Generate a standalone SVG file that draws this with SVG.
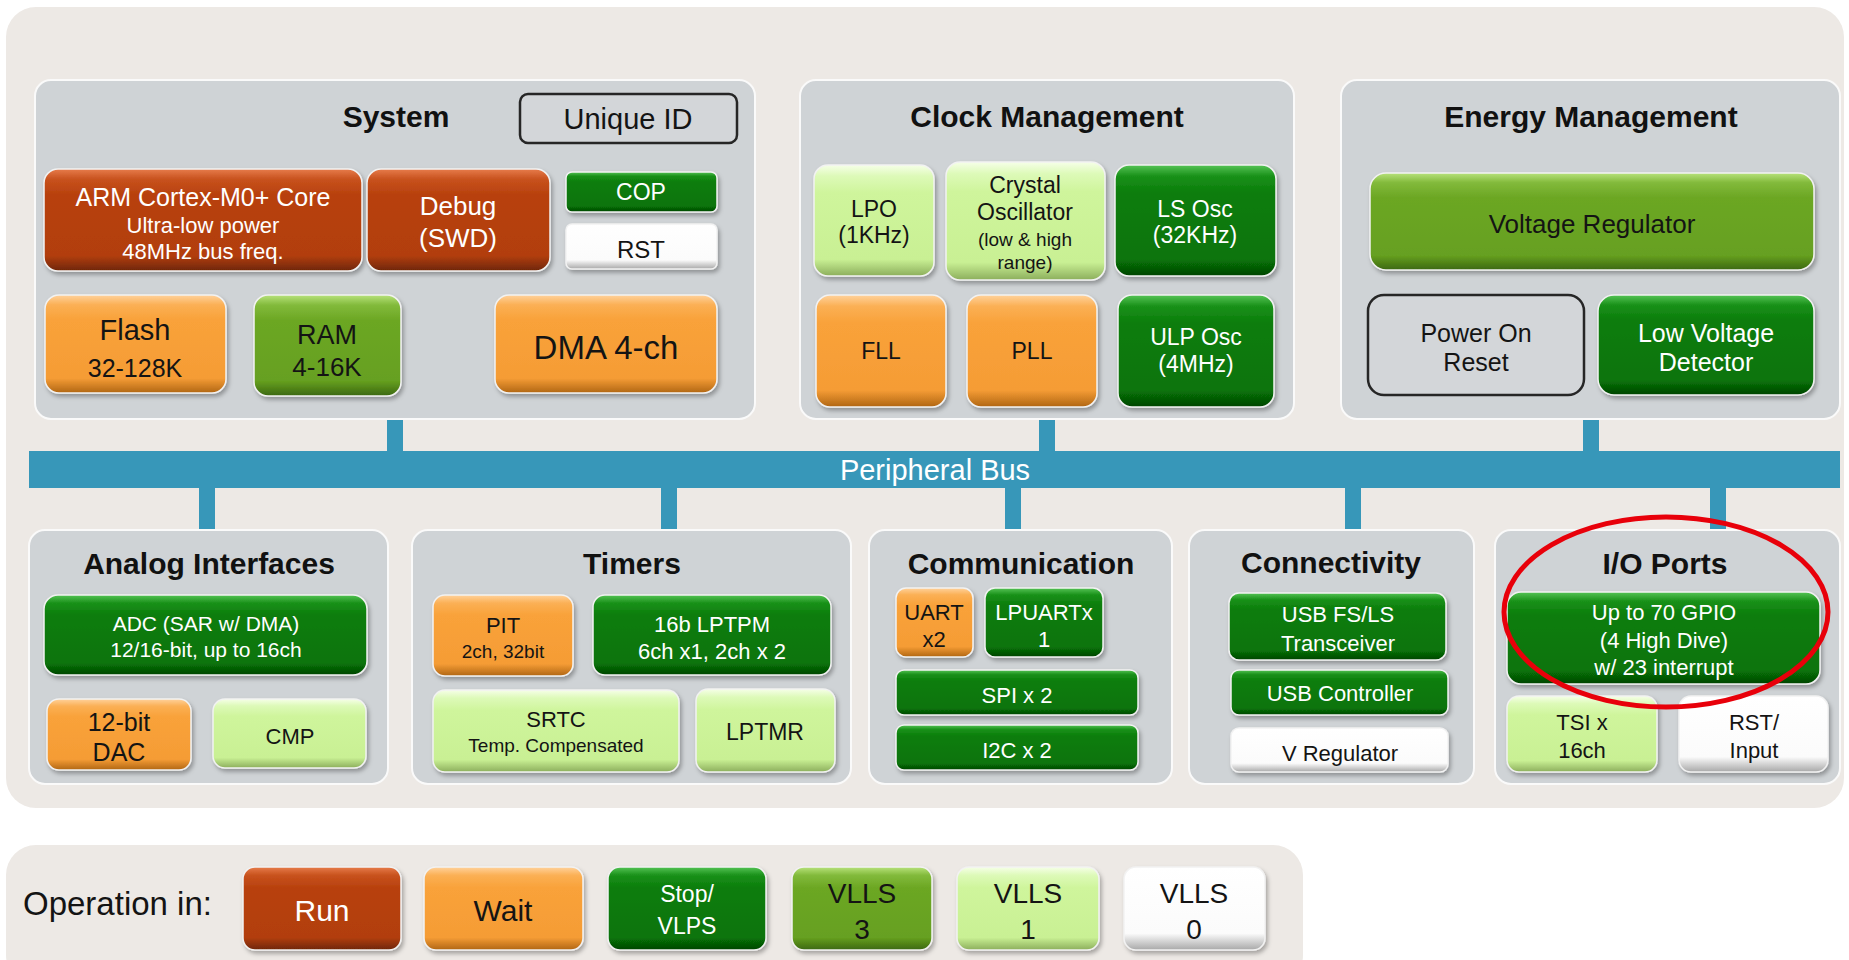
<svg xmlns="http://www.w3.org/2000/svg" width="1849" height="960" viewBox="0 0 1849 960">
<defs>
<linearGradient id="gRust" x1="0" y1="0" x2="0" y2="1"><stop offset="0" stop-color="#e77c4b"/><stop offset="0.1" stop-color="#c8521d"/><stop offset="0.25" stop-color="#b8410e"/><stop offset="0.85" stop-color="#b23e0d"/><stop offset="1" stop-color="#6e2606"/></linearGradient>
<linearGradient id="gOrange" x1="0" y1="0" x2="0" y2="1"><stop offset="0" stop-color="#ffd29c"/><stop offset="0.1" stop-color="#fbb055"/><stop offset="0.25" stop-color="#f9a23a"/><stop offset="0.85" stop-color="#f59c35"/><stop offset="1" stop-color="#b06614"/></linearGradient>
<linearGradient id="gGreen" x1="0" y1="0" x2="0" y2="1"><stop offset="0" stop-color="#55c455"/><stop offset="0.1" stop-color="#1a911a"/><stop offset="0.25" stop-color="#0b7d0b"/><stop offset="0.85" stop-color="#087408"/><stop offset="1" stop-color="#034503"/></linearGradient>
<linearGradient id="gOlive" x1="0" y1="0" x2="0" y2="1"><stop offset="0" stop-color="#b8e27c"/><stop offset="0.1" stop-color="#82ba3b"/><stop offset="0.25" stop-color="#6ca724"/><stop offset="0.85" stop-color="#66a020"/><stop offset="1" stop-color="#3c6810"/></linearGradient>
<linearGradient id="gLight" x1="0" y1="0" x2="0" y2="1"><stop offset="0" stop-color="#f6ffe8"/><stop offset="0.1" stop-color="#ddfab8"/><stop offset="0.25" stop-color="#cff59c"/><stop offset="0.85" stop-color="#c9f094"/><stop offset="1" stop-color="#8cae5c"/></linearGradient>
<linearGradient id="gWhite" x1="0" y1="0" x2="0" y2="1"><stop offset="0" stop-color="#ffffff"/><stop offset="0.8" stop-color="#fbfbfb"/><stop offset="1" stop-color="#a8a8a8"/></linearGradient>
<filter id="sh" x="-10%" y="-10%" width="125%" height="130%"><feDropShadow dx="2" dy="3" stdDeviation="2" flood-color="#000" flood-opacity="0.3"/></filter>
</defs>
<style>
.panel{fill:#cfd3d6;stroke:#fafafa;stroke-width:2}
.title{font-family:"Liberation Sans",Arial,sans-serif;font-weight:bold;font-size:30px;fill:#111;text-anchor:middle}
.t{font-family:"Liberation Sans",Arial,sans-serif;text-anchor:middle}
.w{fill:#ffffff}
.d{fill:#141414}
.btn{stroke:#f2f2f2;stroke-width:1.5;filter:url(#sh)}
.rust{fill:url(#gRust)}
.orange{fill:url(#gOrange)}
.green{fill:url(#gGreen)}
.olive{fill:url(#gOlive)}
.light{fill:url(#gLight)}
.white{fill:url(#gWhite)}
.outline{fill:#d3d6d9;stroke:#262626;stroke-width:2.5}
.bus{fill:#3797b9}
</style>
<rect x="0" y="0" width="1849" height="960" fill="#ffffff"/>
<rect x="6" y="7" width="1838" height="801" rx="30" fill="#ede9e5"/>
<rect x="6" y="845" width="1297" height="140" rx="30" fill="#ede9e5"/>

<g id="connectors">
<rect class="bus" x="29" y="451" width="1811" height="37"/>
<rect class="bus" x="387" y="417" width="16" height="36"/>
<rect class="bus" x="1039" y="417" width="16" height="36"/>
<rect class="bus" x="1583" y="417" width="16" height="36"/>
<rect class="bus" x="199" y="486" width="16" height="46"/>
<rect class="bus" x="661" y="486" width="16" height="46"/>
<rect class="bus" x="1005" y="486" width="16" height="46"/>
<rect class="bus" x="1345" y="486" width="16" height="46"/>
<rect class="bus" x="1710" y="486" width="16" height="46"/>
<text class="t w" x="935" y="480" font-size="29">Peripheral Bus</text>
</g>

<g id="system">
<rect class="panel" x="35" y="80" width="720" height="339" rx="16"/>
<text class="title" x="396" y="127">System</text>
<g id="unique-id"><rect class="outline" x="520" y="94" width="217" height="49" rx="8"/><text class="t d" x="628" y="129" font-size="29">Unique ID</text></g>
<g id="arm-core"><rect class="btn rust" x="44" y="169" width="318" height="102" rx="14"/><text class="t w" x="203" y="206" font-size="25">ARM Cortex-M0+ Core</text><text class="t w" x="203" y="233" font-size="22">Ultra-low power</text><text class="t w" x="203" y="259" font-size="22">48MHz bus freq.</text></g>
<g id="debug"><rect class="btn rust" x="367" y="169" width="183" height="102" rx="14"/><text class="t w" x="458" y="215" font-size="26">Debug</text><text class="t w" x="458" y="247" font-size="26">(SWD)</text></g>
<g id="cop"><rect class="btn green" x="566" y="172" width="151" height="40" rx="6"/><text class="t w" x="641" y="200" font-size="23">COP</text></g>
<g id="rst"><rect class="btn white" x="566" y="224" width="151" height="45" rx="6"/><text class="t d" x="641" y="258" font-size="24">RST</text></g>
<g id="flash"><rect class="btn orange" x="45" y="295" width="181" height="98" rx="14"/><text class="t d" x="135" y="340" font-size="29">Flash</text><text class="t d" x="135" y="377" font-size="25">32-128K</text></g>
<g id="ram"><rect class="btn olive" x="254" y="295" width="147" height="101" rx="14"/><text class="t d" x="327" y="344" font-size="27">RAM</text><text class="t d" x="327" y="376" font-size="26">4-16K</text></g>
<g id="dma"><rect class="btn orange" x="495" y="295" width="222" height="98" rx="14"/><text class="t d" x="606" y="359" font-size="33">DMA 4-ch</text></g>
</g>

<g id="clock">
<rect class="panel" x="800" y="80" width="494" height="339" rx="16"/>
<text class="title" x="1047" y="127">Clock Management</text>
<g id="lpo"><rect class="btn light" x="814" y="165" width="120" height="111" rx="14"/><text class="t d" x="874" y="217" font-size="23">LPO</text><text class="t d" x="874" y="243" font-size="23">(1KHz)</text></g>
<g id="crystal"><rect class="btn light" x="946" y="162" width="159" height="118" rx="14"/><text class="t d" x="1025" y="193" font-size="23">Crystal</text><text class="t d" x="1025" y="220" font-size="23">Oscillator</text><text class="t d" x="1025" y="246" font-size="19">(low &amp; high</text><text class="t d" x="1025" y="269" font-size="19">range)</text></g>
<g id="ls-osc"><rect class="btn green" x="1115" y="165" width="161" height="111" rx="14"/><text class="t w" x="1195" y="217" font-size="23">LS Osc</text><text class="t w" x="1195" y="243" font-size="23">(32KHz)</text></g>
<g id="fll"><rect class="btn orange" x="816" y="295" width="130" height="112" rx="14"/><text class="t d" x="881" y="359" font-size="23">FLL</text></g>
<g id="pll"><rect class="btn orange" x="967" y="295" width="130" height="112" rx="14"/><text class="t d" x="1032" y="359" font-size="23">PLL</text></g>
<g id="ulp-osc"><rect class="btn green" x="1118" y="295" width="156" height="112" rx="14"/><text class="t w" x="1196" y="345" font-size="23">ULP Osc</text><text class="t w" x="1196" y="372" font-size="23">(4MHz)</text></g>
</g>

<g id="energy">
<rect class="panel" x="1341" y="80" width="499" height="339" rx="16"/>
<text class="title" x="1591" y="127">Energy Management</text>
<g id="vreg"><rect class="btn olive" x="1370" y="173" width="444" height="97" rx="16"/><text class="t d" x="1592" y="233" font-size="26">Voltage Regulator</text></g>
<g id="por"><rect class="outline" x="1368" y="295" width="216" height="100" rx="16"/><text class="t d" x="1476" y="342" font-size="25">Power On</text><text class="t d" x="1476" y="371" font-size="25">Reset</text></g>
<g id="lvd"><rect class="btn green" x="1598" y="295" width="216" height="100" rx="16"/><text class="t w" x="1706" y="342" font-size="25">Low Voltage</text><text class="t w" x="1706" y="371" font-size="25">Detector</text></g>
</g>

<g id="analog">
<rect class="panel" x="29" y="530" width="359" height="254" rx="16"/>
<text class="title" x="209" y="574">Analog Interfaces</text>
<g id="adc"><rect class="btn green" x="44" y="595" width="323" height="80" rx="14"/><text class="t w" x="206" y="631" font-size="21">ADC (SAR w/ DMA)</text><text class="t w" x="206" y="657" font-size="21">12/16-bit, up to 16ch</text></g>
<g id="dac"><rect class="btn orange" x="47" y="699" width="144" height="71" rx="12"/><text class="t d" x="119" y="731" font-size="25">12-bit</text><text class="t d" x="119" y="761" font-size="25">DAC</text></g>
<g id="cmp"><rect class="btn light" x="213" y="699" width="153" height="69" rx="12"/><text class="t d" x="290" y="744" font-size="22">CMP</text></g>
</g>

<g id="timers">
<rect class="panel" x="412" y="530" width="439" height="254" rx="16"/>
<text class="title" x="632" y="574">Timers</text>
<g id="pit"><rect class="btn orange" x="433" y="595" width="140" height="81" rx="12"/><text class="t d" x="503" y="633" font-size="22">PIT</text><text class="t d" x="503" y="658" font-size="19">2ch, 32bit</text></g>
<g id="lptpm"><rect class="btn green" x="593" y="595" width="238" height="80" rx="12"/><text class="t w" x="712" y="632" font-size="22">16b LPTPM</text><text class="t w" x="712" y="659" font-size="22">6ch x1, 2ch x 2</text></g>
<g id="srtc"><rect class="btn light" x="433" y="690" width="246" height="82" rx="12"/><text class="t d" x="556" y="727" font-size="22">SRTC</text><text class="t d" x="556" y="752" font-size="19">Temp. Compensated</text></g>
<g id="lptmr"><rect class="btn light" x="696" y="689" width="139" height="83" rx="12"/><text class="t d" x="765" y="740" font-size="23">LPTMR</text></g>
</g>

<g id="communication">
<rect class="panel" x="869" y="530" width="303" height="254" rx="16"/>
<text class="title" x="1021" y="574">Communication</text>
<g id="uart"><rect class="btn orange" x="896" y="588" width="77" height="69" rx="10"/><text class="t d" x="934" y="620" font-size="22">UART</text><text class="t d" x="934" y="647" font-size="22">x2</text></g>
<g id="lpuart"><rect class="btn green" x="985" y="588" width="118" height="69" rx="10"/><text class="t w" x="1044" y="620" font-size="22">LPUARTx</text><text class="t w" x="1044" y="647" font-size="22">1</text></g>
<g id="spi"><rect class="btn green" x="896" y="670" width="242" height="45" rx="8"/><text class="t w" x="1017" y="703" font-size="22">SPI x 2</text></g>
<g id="i2c"><rect class="btn green" x="896" y="725" width="242" height="45" rx="8"/><text class="t w" x="1017" y="758" font-size="22">I2C x 2</text></g>
</g>

<g id="connectivity">
<rect class="panel" x="1189" y="530" width="285" height="254" rx="16"/>
<text class="title" x="1331" y="573">Connectivity</text>
<g id="usb-fs"><rect class="btn green" x="1229" y="593" width="217" height="67" rx="10"/><text class="t w" x="1338" y="622" font-size="22">USB FS/LS</text><text class="t w" x="1338" y="651" font-size="22">Transceiver</text></g>
<g id="usb-ctrl"><rect class="btn green" x="1231" y="670" width="217" height="45" rx="8"/><text class="t w" x="1340" y="701" font-size="22">USB Controller</text></g>
<g id="v-reg"><rect class="btn white" x="1231" y="728" width="217" height="44" rx="8"/><text class="t d" x="1340" y="761" font-size="22">V Regulator</text></g>
</g>

<g id="io-ports">
<rect class="panel" x="1495" y="530" width="345" height="254" rx="16"/>
<text class="title" x="1665" y="574">I/O Ports</text>
<g id="gpio"><rect class="btn green" x="1507" y="592" width="313" height="92" rx="14"/><text class="t w" x="1664" y="620" font-size="22">Up to 70 GPIO</text><text class="t w" x="1664" y="648" font-size="22">(4 High Dive)</text><text class="t w" x="1664" y="675" font-size="22">w/ 23 interrupt</text></g>
<g id="tsi"><rect class="btn light" x="1507" y="696" width="150" height="76" rx="12"/><text class="t d" x="1582" y="730" font-size="22">TSI x</text><text class="t d" x="1582" y="758" font-size="22">16ch</text></g>
<g id="rst-input"><rect class="btn white" x="1679" y="696" width="149" height="76" rx="12"/><text class="t d" x="1754" y="730" font-size="22">RST/</text><text class="t d" x="1754" y="758" font-size="22">Input</text></g>
<ellipse id="highlight" cx="1666" cy="612" rx="162" ry="95" fill="none" stroke="#e8000a" stroke-width="5"/>
</g>

<g id="legend">
<text x="23" y="915" font-family="'Liberation Sans',Arial,sans-serif" font-size="33" fill="#141414">Operation in:</text>
<g id="run"><rect class="btn rust" x="243" y="867" width="158" height="83" rx="12"/><text class="t w" x="322" y="921" font-size="30">Run</text></g>
<g id="wait"><rect class="btn orange" x="424" y="867" width="159" height="83" rx="12"/><text class="t d" x="503" y="921" font-size="30">Wait</text></g>
<g id="stop"><rect class="btn green" x="608" y="867" width="158" height="83" rx="12"/><text class="t w" x="687" y="902" font-size="23">Stop/</text><text class="t w" x="687" y="934" font-size="23">VLPS</text></g>
<g id="vlls3"><rect class="btn olive" x="792" y="867" width="140" height="83" rx="12"/><text class="t d" x="862" y="903" font-size="28">VLLS</text><text class="t d" x="862" y="939" font-size="28">3</text></g>
<g id="vlls1"><rect class="btn light" x="957" y="867" width="142" height="83" rx="12"/><text class="t d" x="1028" y="903" font-size="28">VLLS</text><text class="t d" x="1028" y="939" font-size="28">1</text></g>
<g id="vlls0"><rect class="btn white" x="1124" y="867" width="141" height="83" rx="12"/><text class="t d" x="1194" y="903" font-size="28">VLLS</text><text class="t d" x="1194" y="939" font-size="28">0</text></g>
</g>
</svg>
